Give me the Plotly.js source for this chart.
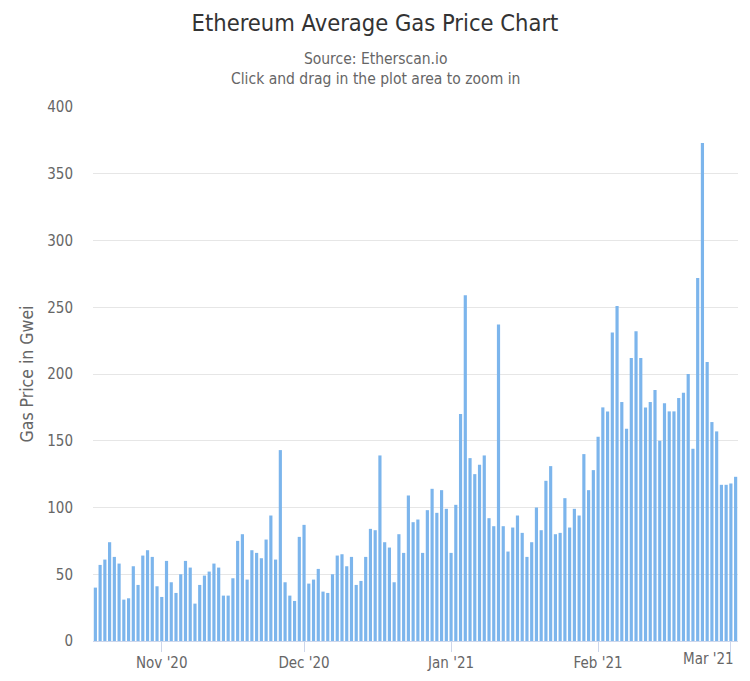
<!DOCTYPE html>
<html>
<head>
<meta charset="utf-8">
<script src="https://cdn.plot.ly/plotly-3.0.1.min.js"></script>
<style>
  html, body { margin: 0; padding: 0; background: #ffffff; }
  #chart { width: 750px; height: 681px; }
</style>
</head>
<body>
<div id="chart"></div>
<script>
// Daily average gas price (Gwei), 2020-10-18 .. 2021-03-02
const startDate = '2020-10-18';
const gasPrice = [
  40, 57, 61, 74, 63, 58, 31, 32, 56, 42, 64, 68, 63, 41, 33, 60, 44, 36, 50, 60, 55, 28,
  42, 49, 52, 58, 55, 34, 34, 47, 75, 80, 46, 68, 66, 62, 76, 94, 61, 143, 44, 34, 30, 78, 87,
  43, 46, 54, 37, 36, 50, 64, 65, 56, 63, 42, 45, 63, 84, 83, 139, 74, 70, 44, 80, 66, 109,
  89, 91, 66, 98, 114, 96, 113, 99, 66, 102, 170, 259, 137, 125, 132, 139, 92, 86, 237, 86, 67, 85,
  94, 81, 63, 74, 100, 83, 120, 131, 80, 81, 107, 85, 99, 94, 140, 113, 128, 153, 175, 172, 231, 251, 179,
  159, 212, 232, 212, 175, 179, 188, 150, 178, 172, 172, 182, 186, 200, 144, 272, 373, 209, 164, 157, 117, 117, 118, 123
];
const tickDates = ['2020-11-01', '2020-12-01', '2021-01-01', '2021-02-01', '2021-03-01'];
const tickLabels = ["Nov '20", "Dec '20", "Jan '21", "Feb '21", "Mar '21"];
const titleText = 'Ethereum Average Gas Price Chart';
const subtitleLines = ['Source: Etherscan.io', 'Click and drag in the plot area to zoom in'];
const yTitle = 'Gas Price in Gwei';

// Build consecutive daily dates for the categories
const dates = [];
{
  const d0 = new Date(startDate + 'T00:00:00Z');
  for (let i = 0; i < gasPrice.length; i++) {
    const d = new Date(d0.getTime() + i * 86400000);
    dates.push(d.toISOString().slice(0, 10));
  }
}

const FONT = '"DejaVu Sans Condensed", "DejaVu Sans", sans-serif';
const W = 750, H = 681;
const M = { l: 93, r: 12, t: 107, b: 40 };
const PW = W - M.l - M.r, PH = H - M.t - M.b;

const lastIdx = tickLabels.length - 1;
const shownTickText = tickLabels.map((t, i) => i === lastIdx ? '' : t);

const trace = {
  type: 'bar',
  x: dates,
  y: gasPrice,
  marker: { color: '#7cb5ec', line: { width: 0 } },
  hoverinfo: 'x+y'
};

const layout = {
  width: W, height: H,
  paper_bgcolor: '#ffffff', plot_bgcolor: '#ffffff',
  margin: M,
  bargap: 0.33,
  showlegend: false,
  font: { family: FONT, color: '#666666', size: 15 },
  title: {
    text: titleText,
    font: { family: FONT, size: 23.5, color: '#333333' },
    x: 0.5, xanchor: 'center', xref: 'container',
    y: 1 - 23 / H, yanchor: 'middle', yref: 'container'
  },
  xaxis: {
    type: 'date',
    range: ['2020-10-17 12:00', '2021-03-02 12:00'],
    tickmode: 'array',
    tickvals: tickDates,
    ticktext: shownTickText,
    ticks: 'outside', ticklen: 10, tickcolor: '#ccd6eb', tickwidth: 1,
    ticklabelstandoff: -2,
    showline: true, linecolor: '#ccd6eb', linewidth: 1,
    showgrid: false, zeroline: false,
    tickfont: { family: FONT, size: 15, color: '#666666' },
    fixedrange: true
  },
  yaxis: {
    range: [0, 400],
    dtick: 50, tick0: 0,
    showgrid: true, gridcolor: '#e6e6e6', gridwidth: 1,
    zeroline: false, showline: false,
    ticks: '', ticklabelstandoff: 19,
    tickfont: { family: FONT, size: 15, color: '#666666' },
    title: { text: yTitle, font: { family: FONT, size: 17.5, color: '#666666' }, standoff: 9 },
    fixedrange: true
  },
  annotations: [
    {
      text: subtitleLines.join('<br>'), xref: 'paper', yref: 'paper', x: (375 - M.l) / PW,
      y: 1 + (M.t - 68.5) / PH, xanchor: 'center', yanchor: 'middle', align: 'center',
      showarrow: false, font: { family: FONT, size: 15.5, color: '#666666' }
    },
    {
      text: tickLabels[lastIdx], xref: 'paper', yref: 'paper', x: (736 - M.l) / PW,
      y: -(659 - (H - M.b)) / PH, xanchor: 'right', yanchor: 'middle',
      showarrow: false, font: { family: FONT, size: 15, color: '#666666' }
    }
  ]
};

Plotly.newPlot('chart', [trace], layout, { displayModeBar: false, responsive: false });
</script>
</body>
</html>
